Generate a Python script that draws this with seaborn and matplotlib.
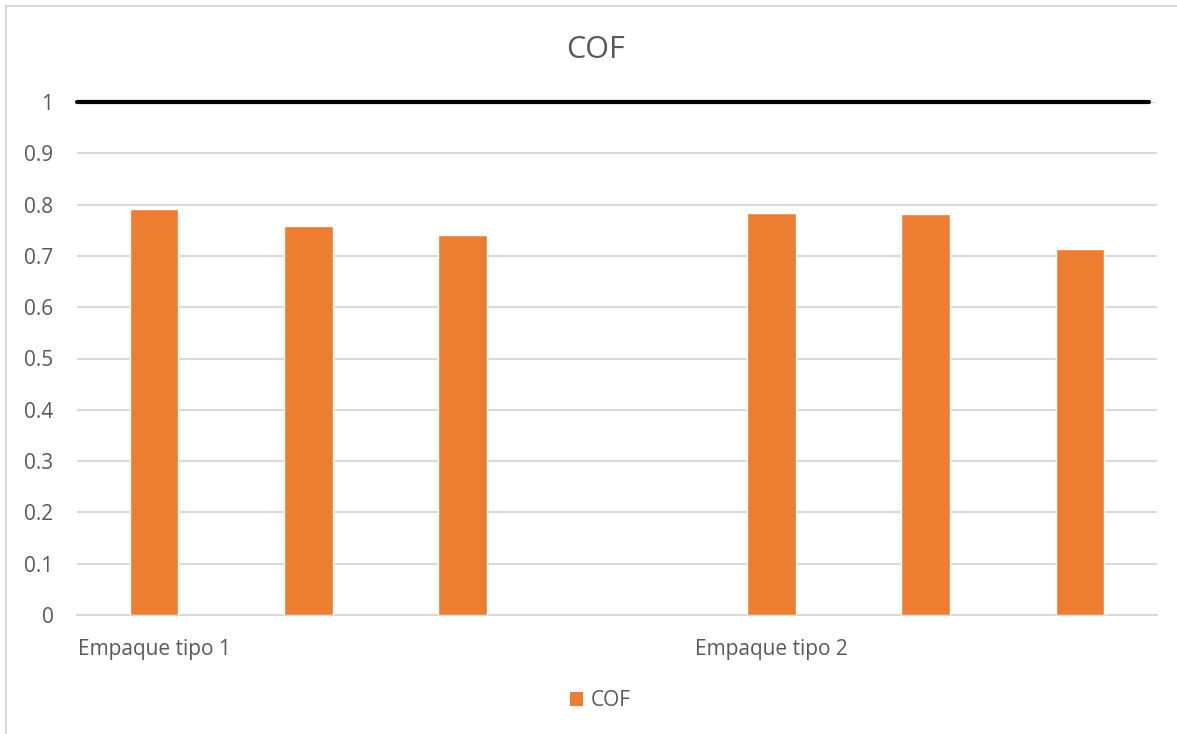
import numpy as np
import pandas as pd
import seaborn as sns
import matplotlib
matplotlib.use("Agg")
import matplotlib.pyplot as plt
from matplotlib.patches import Rectangle, Patch

# Coefficient of friction per sample, two packaging types (slot 4 is a spacer)
slots = [0, 1, 2, 3, 4, 5, 6]
cof_values = [0.792, 0.758, 0.741, np.nan, 0.783, 0.781, 0.714]
tick_labels = ["Empaque tipo 1", "", "", "", "Empaque tipo 2", "", ""]
y_ticks = [0, 0.1, 0.2, 0.3, 0.4, 0.5, 0.6, 0.7, 0.8, 0.9, 1]
y_tick_labels = ["0", "0.1", "0.2", "0.3", "0.4", "0.5", "0.6", "0.7", "0.8", "0.9", "1"]
limit_value = 1.0
series_name = "COF"

ORANGE = "#ED7D31"
GRID = "#D9D9D9"
TEXT = "#595959"

sns.set_theme(style="white")
plt.rcParams["font.family"] = ["Open Sans", "DejaVu Sans"]

W, H = 1177, 734
fig = plt.figure(figsize=(W / 100, H / 100), dpi=100)
ax = fig.add_axes([77 / W, (H - 615) / H, (1157 - 77) / W, (615 - 102) / H])

df = pd.DataFrame({"slot": slots, "cof": cof_values})
sns.barplot(data=df, x="slot", y="cof", order=slots, color=ORANGE,
            saturation=1, width=0.315, ax=ax, zorder=3)

ax.set_xlim(-0.5, 6.5)
ax.set_ylim(0, 1)
ax.set_yticks(y_ticks)
ax.set_yticklabels(y_tick_labels)
ax.set_xticks(slots)
ax.set_xticklabels(tick_labels)
ax.set_xlabel("")
ax.set_ylabel("")
ax.yaxis.grid(True, color=GRID, linewidth=1.5, zorder=0)
ax.set_axisbelow(True)
for side in ["top", "right", "left"]:
    ax.spines[side].set_visible(False)
ax.spines["bottom"].set_color(GRID)
ax.spines["bottom"].set_linewidth(1.5)
ax.tick_params(axis="both", length=0, colors=TEXT, labelsize=15)
ax.tick_params(axis="y", pad=17)
ax.tick_params(axis="x", pad=17)

# Reference limit line at 1
ax.axhline(limit_value, xmin=0, xmax=(1149 - 77) / (1157 - 77), color="black",
           linewidth=3, zorder=4, clip_on=False)

fig.text(596 / W, 1 - 50 / H, series_name, ha="center", va="center",
         fontsize=22, color=TEXT)

fig.legend(handles=[Patch(facecolor=ORANGE, edgecolor="none", label=series_name)],
           loc="center", bbox_to_anchor=(600 / W, 1 - 701 / H), frameon=False,
           fontsize=15, labelcolor=TEXT, handlelength=0.65, handleheight=0.65,
           handletextpad=0.35)

# Chart-area border
fig.patches.append(Rectangle((6 / W, -0.1), 1.2, 1 - 6 / H + 0.1,
                             transform=fig.transFigure, fill=False,
                             edgecolor=GRID, linewidth=1.5))

fig.savefig("out.png", dpi=100)
